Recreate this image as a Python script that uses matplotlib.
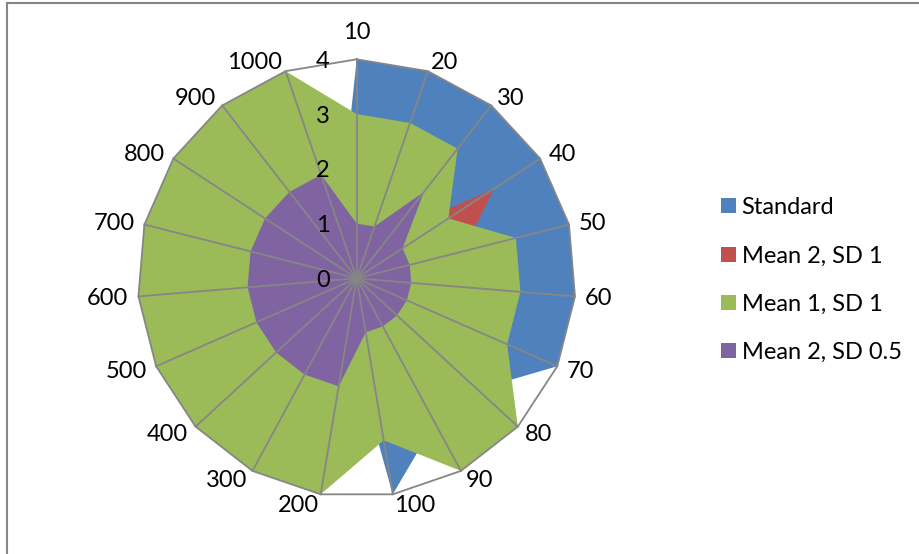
import numpy as np
import matplotlib
matplotlib.use('Agg')
import matplotlib.pyplot as plt
from matplotlib.patches import Patch, Rectangle

plt.rcParams['font.family'] = ['Lato', 'DejaVu Sans']

# categories around the radar, clockwise from the top
categories = ['10', '20', '30', '40', '50', '60', '70', '80', '90', '100',
              '200', '300', '400', '500', '600', '700', '800', '900', '1000']

standard = [4, 4, 4, 4, 4, 4, 4, 3, 3, 4, 1, 1, 1, 1, 1, 1, 1, 1, 1]
mean2_sd1 = [1, 1, 1, 3, 2, 2, 2, 2, 2, 2, 3, 3, 3, 3, 3, 3, 3, 3, 2]
mean1_sd1 = [3, 3, 3, 2, 3, 3, 3, 4, 4, 3, 4, 4, 4, 4, 4, 4, 4, 4, 4]
mean2_sd05 = [1, 1, 2, 1, 1, 1, 1, 1, 1, 1, 2, 2, 2, 2, 2, 2, 2, 2, 2]

series_names = ['Standard', 'Mean 2, SD 1', 'Mean 1, SD 1', 'Mean 2, SD 0.5']
series_colors = ['#4F81BD', '#C0504D', '#9BBB59', '#8064A2']
r_ticks = [0, 1, 2, 3, 4]

grid_color = '#868686'
W, H = 919, 554

fig = plt.figure(figsize=(W / 100, H / 100), dpi=100)
cx, cy, rad = 356.7, 278.3, 219
ax = fig.add_axes([(cx - rad) / W, (H - cy - rad) / H, 2 * rad / W, 2 * rad / H],
                  projection='polar')
ax.set_theta_zero_location('N')
ax.set_theta_direction(-1)
ax.set_ylim(0, max(r_ticks))
ax.grid(False)
ax.spines['polar'].set_visible(False)
ax.patch.set_visible(False)
ax.set_xticks([])
ax.set_yticks([])

n = len(categories)
angles = np.arange(n) * 2 * np.pi / n
closed = np.append(angles, angles[0])

for vals, col in zip([standard, mean2_sd1, mean1_sd1, mean2_sd05], series_colors):
    ax.fill(closed, np.append(vals, vals[0]), color=col, lw=0, zorder=2)

# spokes and outer ring
rmax = max(r_ticks)
for a in angles:
    ax.plot([a, a], [0, rmax], color=grid_color, lw=1.3, zorder=3, clip_on=False)
ax.plot(closed, [rmax] * len(closed), color=grid_color, lw=1.3, zorder=3, clip_on=False)

# radial value labels next to the top spoke
for v in r_ticks:
    ax.annotate(str(v), xy=(0, v), xytext=(-34, -2), textcoords='offset pixels',
                ha='center', va='center', fontsize=17, zorder=4)

# category labels around the outside
for a, lab in zip(angles, categories):
    s, c = np.sin(a), np.cos(a)
    if abs(s) < 0.05:
        ax.annotate(lab, xy=(a, rmax), xytext=(0, 27), textcoords='offset pixels',
                    ha='center', va='center', fontsize=17, annotation_clip=False)
    else:
        ax.annotate(lab, xy=(a, rmax), xytext=(10 * s, 10 * c - 1),
                    textcoords='offset pixels', ha='left' if s > 0 else 'right',
                    va='center', fontsize=17, annotation_clip=False)

handles = [Patch(facecolor=col, edgecolor='none') for col in series_colors]
fig.legend(handles, series_names, loc='center left', bbox_to_anchor=(712 / W, 1 - 280 / H),
           frameon=False, fontsize=17, handlelength=0.6, handleheight=0.6,
           handletextpad=0.25, labelspacing=1.15, borderaxespad=0)

# chart border (only the top and left edges fall inside the image)
fig.add_artist(Rectangle((7 / W, -0.1), 2, 1.1 - 3 / H, transform=fig.transFigure,
                         fill=False, edgecolor=grid_color, lw=1.5))

fig.savefig('out.png', dpi=100)
